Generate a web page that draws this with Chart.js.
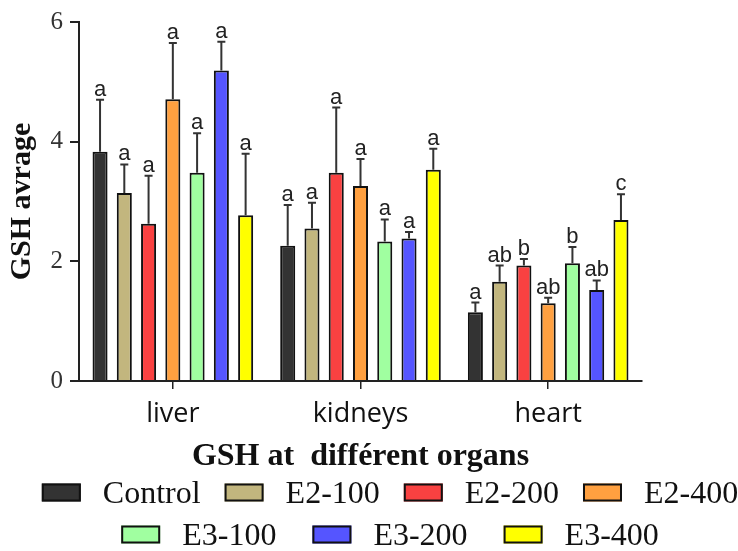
<!DOCTYPE html>
<html>
<head>
<meta charset="utf-8">
<script src="https://cdn.jsdelivr.net/npm/chart.js@4.4.1/dist/chart.umd.min.js"></script>
<style>
  html, body { margin: 0; padding: 0; background: #ffffff; }
  #wrap { width: 738px; height: 551px; }
</style>
</head>
<body>
<div id="wrap"><canvas id="c" width="738" height="551"></canvas></div>
<script>
// Organs on the x axis
const organs = ['liver', 'kidneys', 'heart'];

// Treatment groups
const groupNames = ['Control', 'E2-100', 'E2-200', 'E2-400', 'E3-100', 'E3-200', 'E3-400'];
const groupColors = ['#333333', '#C2B67E', '#F94141', '#FFA040', '#A0FFA0', '#5555FF', '#FFFF00'];

// Mean GSH per group, ordered liver / kidneys / heart
const control = [3.83, 2.26, 1.15];
const e2_100  = [3.14, 2.55, 1.66];
const e2_200  = [2.63, 3.48, 1.93];
const e2_400  = [4.71, 3.26, 1.30];
const e3_100  = [3.48, 2.33, 1.97];
const e3_200  = [5.19, 2.38, 1.52];
const e3_400  = [2.77, 3.53, 2.69];

// Standard deviations (upper whisker only)
const sdControl = [0.87, 0.68, 0.16];
const sdE2_100  = [0.48, 0.43, 0.27];
const sdE2_200  = [0.80, 1.09, 0.11];
const sdE2_400  = [0.94, 0.45, 0.09];
const sdE3_100  = [0.66, 0.37, 0.27];
const sdE3_200  = [0.48, 0.11, 0.16];
const sdE3_400  = [1.03, 0.35, 0.43];

// Significance letters
const letControl = ['a', 'a', 'a'];
const letE2_100  = ['a', 'a', 'ab'];
const letE2_200  = ['a', 'a', 'b'];
const letE2_400  = ['a', 'a', 'ab'];
const letE3_100  = ['a', 'a', 'b'];
const letE3_200  = ['a', 'a', 'ab'];
const letE3_400  = ['a', 'a', 'c'];

// Y axis ticks
const yTicks = [0, 2, 4, 6];

const means = [control, e2_100, e2_200, e2_400, e3_100, e3_200, e3_400];
const sds = [sdControl, sdE2_100, sdE2_200, sdE2_400, sdE3_100, sdE3_200, sdE3_400];
const letters = [letControl, letE2_100, letE2_200, letE2_400, letE3_100, letE3_200, letE3_400];

const datasets = groupNames.map((name, i) => ({
  label: name,
  data: means[i],
  sd: sds[i],
  letters: letters[i],
  backgroundColor: groupColors[i],
  borderColor: '#111111',
  borderWidth: 2,
  categoryPercentage: 0.905,
  barPercentage: 0.62
}));

// Upper error whiskers with caps, plus the letter above each one
const errorBars = {
  id: 'errorBars',
  afterDatasetsDraw(chart) {
    const ctx = chart.ctx;
    const y = chart.scales.y;
    ctx.save();
    chart.data.datasets.forEach((ds, i) => {
      const meta = chart.getDatasetMeta(i);
      meta.data.forEach((bar, j) => {
        const top = y.getPixelForValue(ds.data[j] + ds.sd[j]);
        ctx.strokeStyle = '#333333';
        ctx.lineWidth = 2;
        ctx.beginPath();
        ctx.moveTo(bar.x, bar.y);
        ctx.lineTo(bar.x, top);
        ctx.moveTo(bar.x - 4, top);
        ctx.lineTo(bar.x + 4, top);
        ctx.stroke();
        ctx.fillStyle = '#222222';
        ctx.font = '22px "Liberation Sans", Arial, sans-serif';
        ctx.textAlign = 'center';
        ctx.textBaseline = 'alphabetic';
        ctx.fillText(ds.letters[j], bar.x, top - 4);
      });
    });
    ctx.restore();
  }
};

// Two-row legend under the axis title
const legendRows = {
  id: 'legendRows',
  afterDraw(chart) {
    const ctx = chart.ctx;
    const rows = [
      { items: [0, 1, 2, 3], baseline: 503, gap: 24 },
      { items: [4, 5, 6], baseline: 545, gap: 36 }
    ];
    const boxW = 39, boxH = 18, textGap = 22, centerX = 390;
    ctx.save();
    ctx.font = '32px "Liberation Serif", "Times New Roman", serif';
    ctx.textBaseline = 'alphabetic';
    ctx.textAlign = 'left';
    rows.forEach(row => {
      const widths = row.items.map(i => ctx.measureText(chart.data.datasets[i].label).width);
      let total = 0;
      widths.forEach(w => { total += boxW + textGap + w; });
      total += row.gap * (row.items.length - 1);
      let x = centerX - total / 2;
      row.items.forEach((i, k) => {
        const ds = chart.data.datasets[i];
        const by = row.baseline - 10.5 - boxH / 2;
        ctx.fillStyle = ds.backgroundColor;
        ctx.fillRect(x, by, boxW, boxH);
        ctx.strokeStyle = '#111111';
        ctx.lineWidth = 2;
        ctx.strokeRect(x + 1, by + 1, boxW - 2, boxH - 2);
        ctx.fillStyle = '#111111';
        ctx.fillText(ds.label, x + boxW + textGap, row.baseline);
        x += boxW + textGap + widths[k] + row.gap;
      });
    });
    ctx.restore();
  }
};

new Chart(document.getElementById('c'), {
  type: 'bar',
  data: { labels: organs, datasets: datasets },
  options: {
    responsive: false,
    animation: false,
    layout: { padding: { top: 20, right: 96, bottom: 75, left: 0 } },
    plugins: {
      legend: { display: false },
      tooltip: { enabled: false }
    },
    scales: {
      x: {
        afterFit(scale) { scale.height = 95; },
        grid: { offset: false, drawOnChartArea: false, drawTicks: true, tickLength: 8, color: '#222222', lineWidth: 1.5 },
        border: { display: true, color: '#222222', width: 2 },
        ticks: {
          color: '#111111',
          padding: 9,
          font: { family: '"Open Sans", sans-serif', size: 27 }
        },
        title: {
          display: true,
          text: 'GSH at  différent organs',
          color: '#111111',
          padding: { top: 0, bottom: 0 },
          font: { family: '"Liberation Serif", "Times New Roman", serif', size: 32, weight: 'bold' }
        }
      },
      y: {
        min: 0,
        max: 6,
        afterFit(scale) { scale.width = 79; },
        afterBuildTicks(scale) { scale.ticks = yTicks.map(v => ({ value: v })); },
        grid: { drawOnChartArea: false, drawTicks: true, tickLength: 9, color: '#222222', lineWidth: 2 },
        border: { display: true, color: '#222222', width: 2 },
        ticks: {
          color: '#333333',
          padding: 7,
          font: { family: '"Liberation Serif", "Times New Roman", serif', size: 25 }
        },
        title: {
          display: true,
          text: 'GSH avrage',
          color: '#111111',
          padding: { top: 4, bottom: 0 },
          font: { family: '"Liberation Serif", "Times New Roman", serif', size: 30, weight: 'bold' }
        }
      }
    }
  },
  plugins: [errorBars, legendRows]
});
</script>
</body>
</html>
